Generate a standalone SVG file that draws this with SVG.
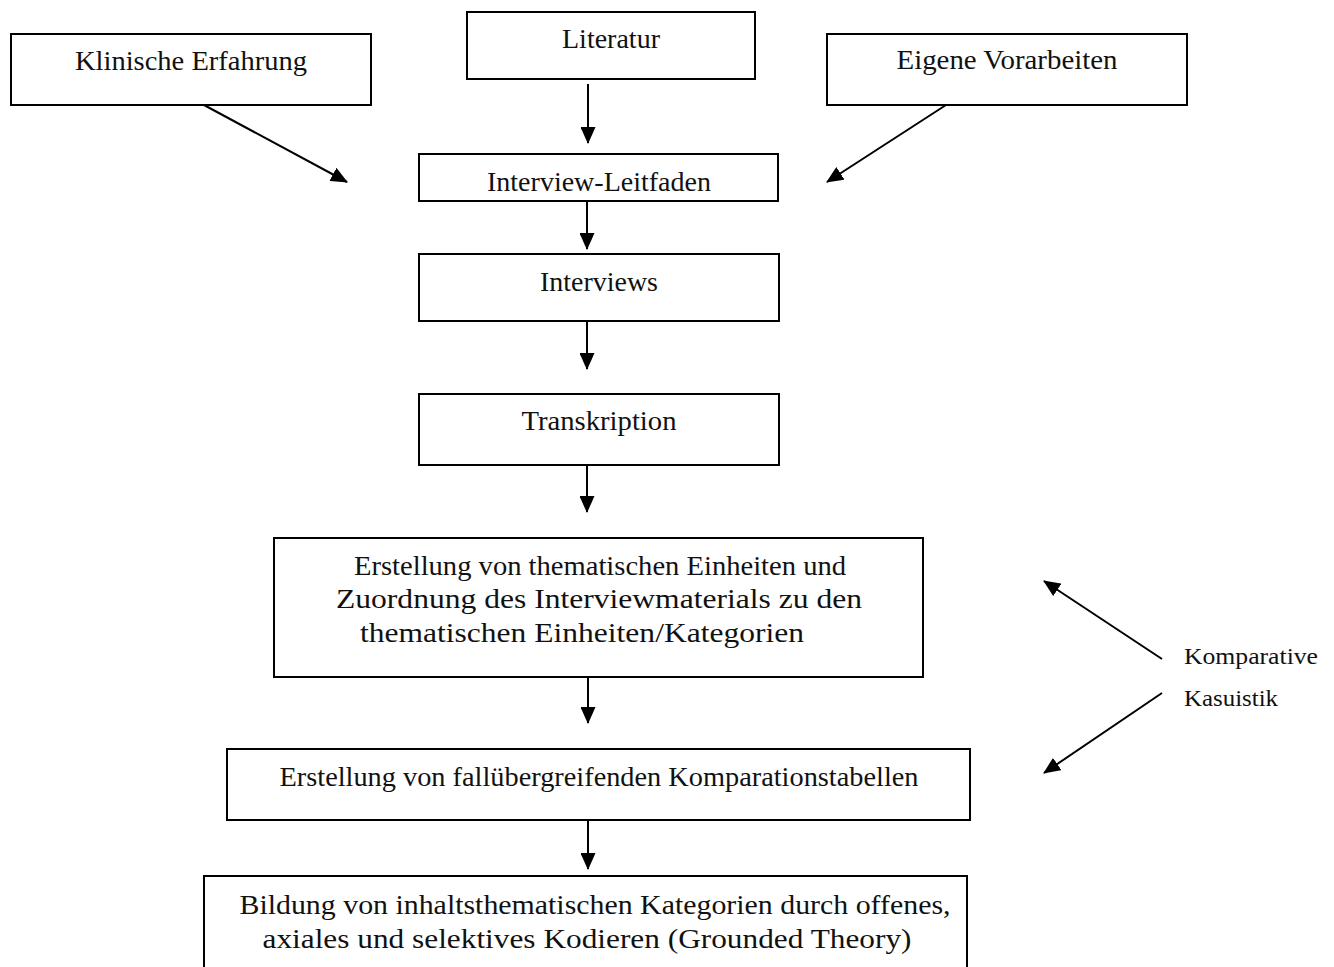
<svg xmlns="http://www.w3.org/2000/svg" width="1334" height="967" viewBox="0 0 1334 967">
<style>
.box{fill:#fff;stroke:#000;stroke-width:2}
.t{font-family:"Liberation Serif","Times New Roman",serif;font-size:28px;fill:#111;text-anchor:middle}
.s{font-family:"Liberation Serif","Times New Roman",serif;font-size:24px;fill:#111}
.c{stroke:#000;stroke-width:2;fill:none;marker-end:url(#ah)}
</style>
<defs>
<marker id="ah" viewBox="0 0 17 15" refX="16" refY="7.5" markerWidth="17" markerHeight="15" markerUnits="userSpaceOnUse" orient="auto">
<path d="M0,0 L17,7.5 L0,15 Z" fill="#000"/>
</marker>
</defs>
<rect width="1334" height="967" fill="#fff"/>
<g id="connectors">
<line class="c" x1="588" y1="84" x2="588" y2="143"/>
<line class="c" x1="204" y1="105" x2="347" y2="182"/>
<line class="c" x1="946" y1="105" x2="827" y2="182"/>
<line class="c" x1="587" y1="201" x2="587" y2="249"/>
<line class="c" x1="587" y1="321" x2="587" y2="369"/>
<line class="c" x1="587" y1="465" x2="587" y2="512"/>
<line class="c" x1="588" y1="677" x2="588" y2="723"/>
<line class="c" x1="588" y1="820" x2="588" y2="869"/>
<line class="c" x1="1162" y1="659" x2="1044" y2="581"/>
<line class="c" x1="1162" y1="693" x2="1044" y2="773"/>
</g>
<g id="klinische">
<rect class="box" x="11" y="34" width="360" height="71"/>
<text class="t" x="191" y="70" textLength="232" lengthAdjust="spacingAndGlyphs">Klinische Erfahrung</text>
</g>
<g id="literatur">
<rect class="box" x="467" y="12" width="288" height="67"/>
<text class="t" x="611" y="48" textLength="98" lengthAdjust="spacingAndGlyphs">Literatur</text>
</g>
<g id="eigene">
<rect class="box" x="827" y="34" width="360" height="71"/>
<text class="t" x="1007" y="69" textLength="221" lengthAdjust="spacingAndGlyphs">Eigene Vorarbeiten</text>
</g>
<g id="leitfaden">
<rect class="box" x="419" y="154" width="359" height="47"/>
<text class="t" x="599" y="191" textLength="224" lengthAdjust="spacingAndGlyphs">Interview-Leitfaden</text>
</g>
<g id="interviews">
<rect class="box" x="419" y="254" width="360" height="67"/>
<text class="t" x="599" y="291" textLength="118" lengthAdjust="spacingAndGlyphs">Interviews</text>
</g>
<g id="transkription">
<rect class="box" x="419" y="394" width="360" height="71"/>
<text class="t" x="599" y="430" textLength="155" lengthAdjust="spacingAndGlyphs">Transkription</text>
</g>
<g id="einheiten">
<rect class="box" x="274" y="538" width="649" height="139"/>
<text class="t" x="600" y="575" textLength="492" lengthAdjust="spacingAndGlyphs">Erstellung von thematischen Einheiten und</text>
<text class="t" x="599" y="608" textLength="526" lengthAdjust="spacingAndGlyphs">Zuordnung des Interviewmaterials zu den</text>
<text class="t" x="582" y="642" textLength="444" lengthAdjust="spacingAndGlyphs">thematischen Einheiten/Kategorien</text>
</g>
<g id="tabellen">
<rect class="box" x="227" y="749" width="743" height="71"/>
<text class="t" x="599" y="786" textLength="639" lengthAdjust="spacingAndGlyphs">Erstellung von fallübergreifenden Komparationstabellen</text>
</g>
<g id="bildung">
<rect class="box" x="204" y="876" width="763" height="100"/>
<text class="t" x="595" y="914" textLength="711" lengthAdjust="spacingAndGlyphs">Bildung von inhaltsthematischen Kategorien durch offenes,</text>
<text class="t" x="587" y="948" textLength="649" lengthAdjust="spacingAndGlyphs">axiales und selektives Kodieren (Grounded Theory)</text>
</g>
<g id="komparative">
<text class="s" x="1184" y="664" textLength="134" lengthAdjust="spacingAndGlyphs">Komparative</text>
<text class="s" x="1184" y="706" textLength="94" lengthAdjust="spacingAndGlyphs">Kasuistik</text>
</g>
</svg>
